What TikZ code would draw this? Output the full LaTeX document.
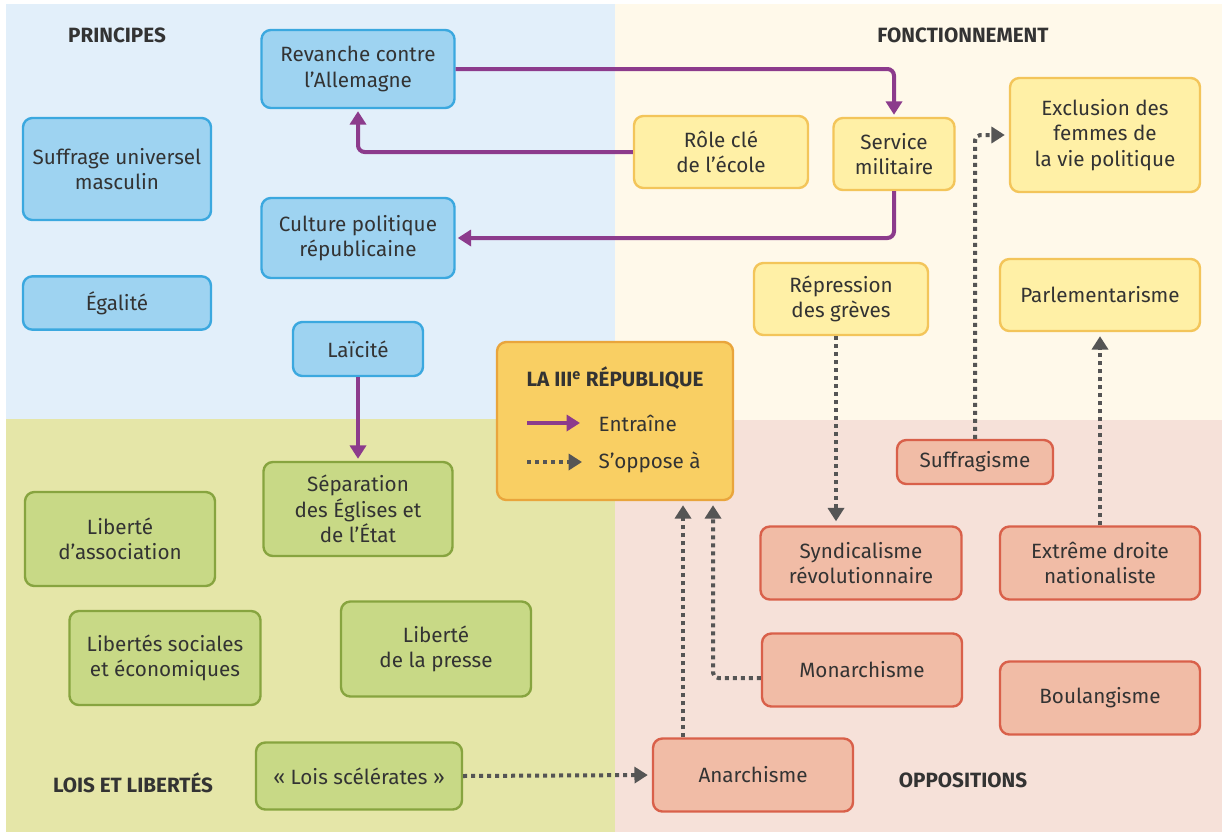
\documentclass[tikz,border=0pt]{standalone}
\usepackage{fontspec}
\setmainfont{Fira Sans}
\usetikzlibrary{arrows.meta}
\definecolor{bgblue}{HTML}{E2EFFA}
\definecolor{bgyel}{HTML}{FFF9EA}
\definecolor{bggreen}{HTML}{E5E6A8}
\definecolor{bgpink}{HTML}{F6E1D9}
\definecolor{nblue}{HTML}{9ED3F1}
\definecolor{dblue}{HTML}{3BA8DF}
\definecolor{nyel}{HTML}{FFF0A6}
\definecolor{dyel}{HTML}{F3C55A}
\definecolor{ngreen}{HTML}{C8D986}
\definecolor{dgreen}{HTML}{87A43F}
\definecolor{npink}{HTML}{F1BCA6}
\definecolor{dpink}{HTML}{D9604A}
\definecolor{ncent}{HTML}{F9CF63}
\definecolor{dcent}{HTML}{E9A53C}
\definecolor{purp}{HTML}{8C3B8C}
\definecolor{dgray}{HTML}{555555}
\definecolor{txt}{HTML}{333333}
\tikzset{
  box/.style={rounded corners=7pt, line width=1.8pt, align=center, text=txt,
    font=\fontsize{15.5}{19}\selectfont, inner sep=2pt},
  bbox/.style={box, fill=nblue, draw=dblue},
  ybox/.style={box, fill=nyel, draw=dyel},
  gbox/.style={box, fill=ngreen, draw=dgreen},
  pbox/.style={box, fill=npink, draw=dpink},
  cbox/.style={box, fill=ncent, draw=dcent},
  sect/.style={font=\fontsize{15.5}{18}\selectfont\bfseries, text=txt},
  ent/.style={draw=purp, line width=3pt, rounded corners=5pt,
    -{Triangle[length=10pt,width=12pt,fill=purp]}, shorten >=1.5pt},
  opp/.style={draw=dgray, line width=3pt, dash pattern=on 3pt off 3pt,
    rounded corners=4pt, -{Triangle[length=10pt,width=12pt,fill=dgray]}, shorten >=3pt}
}
\begin{document}
\begin{tikzpicture}[x=0.75pt,y=-0.75pt]
\useasboundingbox (0,0) rectangle (1228,835);
\fill[white] (0,0) rectangle (1228,835);
\fill[bgblue] (6,4) rectangle (615,419);
\fill[bgyel] (615,4) rectangle (1222,420);
\fill[bggreen] (6,419) rectangle (615,832);
\fill[bgpink] (615,420) rectangle (1222,832);

% section titles
\node[sect] (tprin) at (117,35) {PRINCIPES};
\node[sect] (tfonc) at (963,35) {FONCTIONNEMENT};
\node[sect] (tlois) at (133,783) {LOIS ET LIBERTÉS};
\node[sect] (topp) at (963,780) {OPPOSITIONS};

% principes
\node[bbox, minimum width=144.75pt, minimum height=58.5pt] (rev) at (358,69) {Revanche contre\\l’Allemagne};
\node[bbox, minimum width=141pt, minimum height=76.5pt] (suff) at (117,169) {Suffrage universel\\masculin};
\node[bbox, minimum width=144.75pt, minimum height=60pt] (cult) at (358,238) {Culture politique\\républicaine};
\node[bbox, minimum width=141pt, minimum height=40pt] (egal) at (117,303) {Égalité};
\node[bbox, minimum width=97.5pt, minimum height=40.5pt] (laic) at (358,349) {Laïcité};

% fonctionnement
\node[ybox, minimum width=130.5pt, minimum height=54pt] (role) at (721,152) {Rôle clé\\de l’école};
\node[ybox, minimum width=90.75pt, minimum height=54pt] (serv) at (894,154) {Service\\militaire};
\node[ybox, minimum width=142.5pt, minimum height=85.5pt] (excl) at (1105,135) {Exclusion des\\femmes de\\la vie politique};
\node[ybox, minimum width=130.5pt, minimum height=54pt] (repr) at (841,299) {Répression\\des grèves};
\node[ybox, minimum width=150pt, minimum height=54pt] (parl) at (1100,295) {Parlementarisme};

% centre
\node[cbox, minimum width=177pt, minimum height=118.5pt] (rep) at (615,421) {};
\node[font=\fontsize{15.5}{18}\selectfont\bfseries, text=txt] (reptitle) at (615,378) {LA III\textsuperscript{e} RÉPUBLIQUE};
\coordinate (l1a) at (527,423);
\coordinate (l1b) at (580,423);
\coordinate (l2a) at (527,462);
\coordinate (l2b) at (582,462);
\draw[ent, shorten >=0pt] (l1a) -- (l1b);
\draw[opp, shorten >=0pt] (l2a) -- (l2b);
\node[anchor=west, text=txt, font=\fontsize{15.5}{18}\selectfont] (lent) at (594,423) {Entraîne};
\node[anchor=west, text=txt, font=\fontsize{15.5}{18}\selectfont] (lopp) at (594,462) {S’oppose à};

% lois et libertés
\node[gbox, minimum width=141.75pt, minimum height=70.5pt] (sep) at (358,509) {Séparation\\des Églises et\\de l’État};
\node[gbox, minimum width=142.5pt, minimum height=70.5pt] (lass) at (120,539) {Liberté\\d’association};
\node[gbox, minimum width=143.25pt, minimum height=70.5pt] (lsoc) at (165,658) {Libertés sociales\\et économiques};
\node[gbox, minimum width=142.5pt, minimum height=71.25pt] (lpre) at (436,649) {Liberté\\de la presse};
\node[gbox, minimum width=154.5pt, minimum height=50.25pt] (lois) at (359,776) {« Lois scélérates »};

% oppositions
\node[pbox, minimum width=117pt, minimum height=33pt] (sufg) at (975,462) {Suffragisme};
\node[pbox, minimum width=150.75pt, minimum height=54.75pt] (synd) at (861,563) {Syndicalisme\\révolutionnaire};
\node[pbox, minimum width=150pt, minimum height=54.75pt] (extr) at (1100,563) {Extrême droite\\nationaliste};
\node[pbox, minimum width=150pt, minimum height=54.75pt] (mona) at (862,670) {Monarchisme};
\node[pbox, minimum width=150pt, minimum height=54.75pt] (boul) at (1100,698) {Boulangisme};
\node[pbox, minimum width=150pt, minimum height=54.75pt] (anar) at (753,775) {Anarchisme};

% entraîne
\draw[ent] (rev.east) -| (serv.north);
\draw[ent] (role.west) -| (rev.south);
\draw[ent] (serv.south) |- (cult.east);
\draw[ent] (laic.south) -- (sep.north);

% s'oppose à
\draw[opp] (sufg.north) |- (excl.west);
\draw[opp] ([xshift=-3.75pt]repr.south) -- ([xshift=-3.75pt]repr.south |- synd.north);
\draw[opp] (extr.north) -- (parl.south);
\draw[opp] ([xshift=-52.5pt]anar.north) -- ([xshift=-52.5pt]anar.north |- rep.south);
\draw[opp] ([yshift=-6pt]mona.west) -| ([xshift=73.5pt]rep.south);
\draw[opp] (lois.east) -- (anar.west);
\end{tikzpicture}
\end{document}
